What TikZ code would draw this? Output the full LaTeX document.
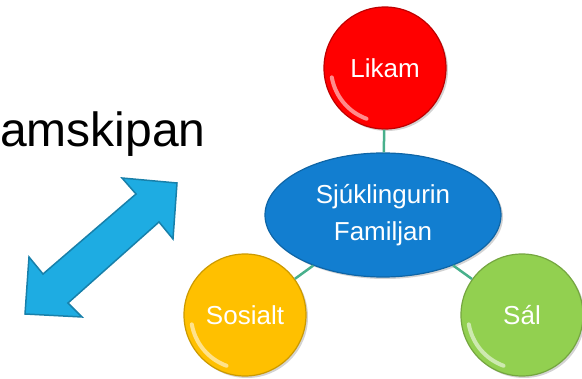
\documentclass[tikz,border=0pt]{standalone}
\usepackage{fontspec}
\setmainfont{Liberation Sans}
\usetikzlibrary{shadows,shapes.geometric}
\definecolor{arrowblue}{RGB}{30,172,226}
\definecolor{arrowedge}{RGB}{24,128,170}
\definecolor{ballred}{RGB}{255,0,0}
\definecolor{ballblue}{RGB}{18,126,208}
\definecolor{ballyellow}{RGB}{255,192,0}
\definecolor{ballgreen}{RGB}{146,208,80}
\definecolor{linkgreen}{RGB}{72,176,140}
\tikzset{
  ball/.style={circle, minimum size=122pt, inner sep=0pt, text=white,
    font=\fontsize{26}{30}\selectfont, line width=1.2pt,
    drop shadow={shadow xshift=2pt, shadow yshift=-2pt, opacity=0.35},
    path picture={
      \draw[white, opacity=0.55, line width=4pt, line cap=round]
        (path picture bounding box.center) ++(190:54pt) arc (190:250:54pt);
    }},
  link/.style={draw=linkgreen, line width=2.5pt}
}

\begin{document}
\begin{tikzpicture}[x=1pt, y=-1pt]
			%%%%% START %%%%%
			\useasboundingbox (0, 0) rectangle (582, 379);
			
			\node[anchor=base west, inner sep=0pt, font=\fontsize{48}{52}\selectfont] (title) at (0, 147) {amskipan};
			
			\draw[fill=arrowblue, draw=arrowedge, line width=1.5pt, line join=miter]
			  (177, 183) -- (173, 239) -- (159, 222) -- (68, 303) -- (82, 317)
			  -- (25, 314) -- (29, 257) -- (43, 274) -- (136, 194) -- (122, 178) -- cycle;
			
			\node[ball, fill=ballred, draw=ballred!75!black] (likam) at (385, 68) {Likam};
			\node[ball, fill=ballyellow, draw=ballyellow!80!black] (sosialt) at (245, 315) {Sosialt};
			\node[ball, fill=ballgreen, draw=ballgreen!80!black] (sal) at (522, 315) {Sál};
			\node[ellipse, minimum width=236pt, minimum height=124pt, inner sep=0pt, fill=ballblue,
			  draw=ballblue!80!black, line width=1.2pt, text=white, align=center,
			  font=\fontsize{26}{37}\selectfont,
			  drop shadow={shadow xshift=2pt, shadow yshift=-2pt, opacity=0.35}] (patient) at (383, 215)
			  {Sjúklingurin\\Familjan};
			
			\draw[link] (likam) -- (patient);
			\draw[link] (sosialt) -- (patient);
			\draw[link] (sal) -- (patient);
			%%%%% END %%%%%
\end{tikzpicture}
\end{document}
